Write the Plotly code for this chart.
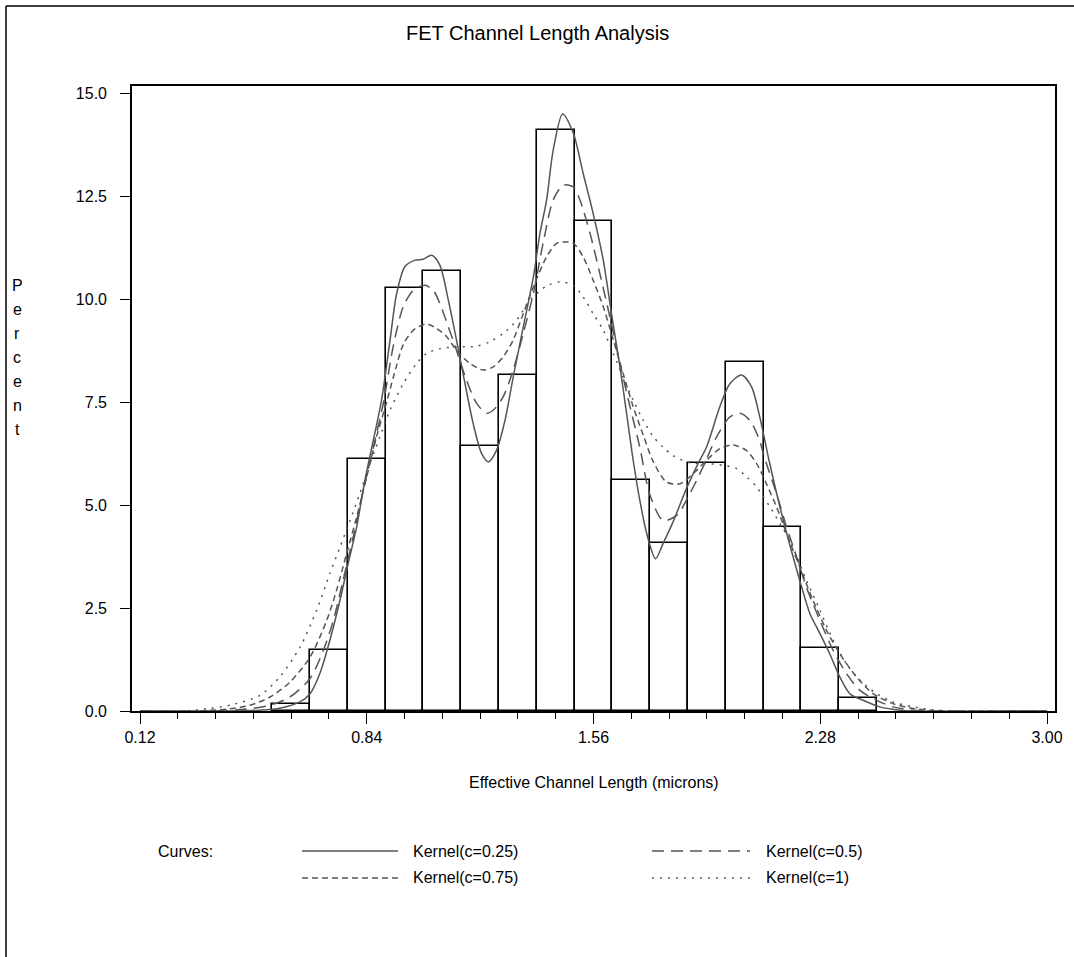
import plotly.graph_objects as go

# histogram: bin midpoints (microns) and percent of observations
bin_mid = [0.60, 0.72, 0.84, 0.96, 1.08, 1.20, 1.32, 1.44,
           1.56, 1.68, 1.80, 1.92, 2.04, 2.16, 2.28, 2.40]
pct = [0.16, 1.47, 6.11, 10.28, 10.68, 6.44, 8.16, 14.11,
       11.90, 5.62, 4.07, 6.03, 8.48, 4.47, 1.54, 0.32]
bin_width = 0.12

# kernel density curves (x in microns, y in percent)
k025_x = [0.12, 0.40, 0.50, 0.56, 0.628, 0.66, 0.691, 0.723, 0.755, 0.781, 0.808, 0.834,
          0.861, 0.887, 0.914, 0.935, 0.961, 0.993, 1.019, 1.046, 1.072, 1.099, 1.125,
          1.152, 1.178, 1.205, 1.226, 1.252, 1.279, 1.305, 1.337, 1.369, 1.39, 1.411,
          1.432, 1.462, 1.496, 1.527, 1.559, 1.591, 1.617, 1.644, 1.665, 1.686, 1.707,
          1.729, 1.757, 1.781, 1.813, 1.855, 1.892, 1.919, 1.961, 1.993, 2.03, 2.062,
          2.088, 2.115, 2.141, 2.168, 2.194, 2.221, 2.247, 2.279, 2.31, 2.342, 2.374,
          2.416, 2.469, 2.533, 2.60, 3.00]
k025_y = [0, 0, 0.02, 0.06, 0.22, 0.42, 0.91, 1.72, 2.69, 3.58, 4.47, 5.60,
          6.58, 7.55, 9.01, 10.14, 10.79, 10.95, 10.97, 11.07, 10.83, 9.98, 9.01,
          7.95, 6.98, 6.25, 6.05, 6.33, 7.06, 8.11, 9.33, 10.54, 11.60, 12.41,
          13.62, 14.50, 14.03, 13.06, 12.08, 10.95, 9.66, 8.36, 7.23, 6.09, 5.12,
          4.31, 3.70, 4.07, 4.60, 5.40, 6.01, 6.41, 7.39, 7.95, 8.16, 7.87,
          7.14, 6.17, 5.30, 4.47, 3.74, 3.01, 2.37, 1.88, 1.39, 0.83, 0.42,
          0.26, 0.10, 0.02, 0, 0]

k05_x = [0.12, 0.35, 0.45, 0.533, 0.596, 0.66, 0.702, 0.734, 0.765, 0.797, 0.829, 0.861,
         0.892, 0.924, 0.956, 0.988, 1.025, 1.051, 1.072, 1.099, 1.125, 1.157, 1.189,
         1.221, 1.242, 1.273, 1.305, 1.337, 1.369, 1.40, 1.432, 1.464, 1.496, 1.517,
         1.549, 1.58, 1.612, 1.644, 1.676, 1.707, 1.739, 1.781, 1.824, 1.866, 1.908,
         1.951, 1.993, 2.025, 2.056, 2.083, 2.109, 2.141, 2.173, 2.205, 2.236, 2.279,
         2.321, 2.363, 2.406, 2.459, 2.511, 2.575, 2.65, 3.00]
k05_y = [0, 0, 0.04, 0.14, 0.34, 0.79, 1.47, 2.20, 3.18, 4.23, 5.36, 6.41,
         7.45, 8.85, 9.82, 10.22, 10.34, 10.22, 9.90, 9.33, 8.76, 8.03, 7.47,
         7.23, 7.31, 7.63, 8.28, 9.17, 10.14, 11.36, 12.41, 12.77, 12.73, 12.41,
         11.60, 10.63, 9.57, 8.44, 7.39, 6.41, 5.25, 4.63, 4.75, 5.28, 5.93,
         6.66, 7.14, 7.23, 7.06, 6.66, 6.01, 5.28, 4.47, 3.74, 3.01, 2.20,
         1.47, 0.91, 0.50, 0.26, 0.10, 0.02, 0, 0]

k075_x = [0.12, 0.30, 0.40, 0.469, 0.533, 0.596, 0.66, 0.713, 0.744, 0.776, 0.808, 0.84,
          0.871, 0.903, 0.935, 0.956, 0.988, 1.03, 1.062, 1.094, 1.125, 1.168, 1.21,
          1.242, 1.273, 1.305, 1.337, 1.369, 1.411, 1.443, 1.464, 1.496, 1.527, 1.559,
          1.591, 1.623, 1.654, 1.686, 1.718, 1.75, 1.792, 1.835, 1.877, 1.919, 1.961,
          2.003, 2.045, 2.078, 2.109, 2.141, 2.173, 2.215, 2.257, 2.30, 2.342, 2.395,
          2.448, 2.511, 2.575, 2.638, 2.70, 3.00]
k075_y = [0, 0, 0.05, 0.14, 0.34, 0.70, 1.31, 2.20, 2.93, 3.82, 4.71, 5.69,
          6.66, 7.50, 8.40, 8.90, 9.25, 9.40, 9.29, 9.09, 8.76, 8.44, 8.28,
          8.36, 8.60, 9.01, 9.65, 10.30, 11.03, 11.36, 11.39, 11.36, 11.03, 10.46,
          9.82, 9.01, 8.20, 7.39, 6.70, 6.05, 5.56, 5.52, 5.77, 6.09, 6.37,
          6.46, 6.33, 6.01, 5.52, 4.96, 4.31, 3.50, 2.69, 1.96, 1.39, 0.83,
          0.42, 0.18, 0.06, 0.01, 0, 0]

k1_x = [0.12, 0.257, 0.342, 0.416, 0.501, 0.564, 0.628, 0.681, 0.723, 0.755, 0.787, 0.818,
        0.85, 0.882, 0.914, 0.956, 0.998, 1.03, 1.072, 1.125, 1.189, 1.231, 1.273,
        1.316, 1.358, 1.411, 1.453, 1.496, 1.527, 1.559, 1.591, 1.623, 1.654, 1.686,
        1.718, 1.75, 1.781, 1.813, 1.866, 1.919, 1.972, 2.014, 2.046, 2.078, 2.12,
        2.152, 2.183, 2.236, 2.279, 2.321, 2.363, 2.406, 2.459, 2.511, 2.575, 2.638,
        2.72, 3.00]
k1_y = [0, 0.0, 0.06, 0.16, 0.38, 0.83, 1.55, 2.45, 3.34, 3.98, 4.63, 5.28,
        6.01, 6.66, 7.31, 7.95, 8.44, 8.68, 8.80, 8.84, 8.86, 8.97, 9.17,
        9.49, 9.98, 10.32, 10.42, 10.34, 10.06, 9.65, 9.25, 8.68, 8.11, 7.55,
        7.06, 6.66, 6.41, 6.20, 6.03, 6.01, 5.97, 5.89, 5.69, 5.44, 4.96,
        4.55, 4.15, 3.18, 2.45, 1.72, 1.15, 0.75, 0.42, 0.22, 0.10, 0.03,
        0, 0]

curve_labels = ["Kernel(c=0.25)", "Kernel(c=0.5)", "Kernel(c=0.75)", "Kernel(c=1)"]
curve_dash = ["solid", "12px,7px", "6px,4px", "2px,6px"]

FONT = "Arial, Liberation Sans, Helvetica, sans-serif"
CURVE_COLOR = "#555555"
W, H = 1074, 957
L, R, T, B = 132, 1055, 86, 711   # plot-area box in pixels


def px(p):
    return (p - L) / (R - L)


def py(q):
    return (B - q) / (B - T)


fig = go.Figure()
fig.add_trace(go.Bar(
    x=bin_mid, y=pct, width=bin_width,
    marker=dict(color="white", line=dict(color="black", width=1.6)),
    hoverinfo="x+y",
))

for cx, cy, dash in zip([k025_x, k05_x, k075_x, k1_x],
                        [k025_y, k05_y, k075_y, k1_y], curve_dash):
    fig.add_trace(go.Scatter(
        x=cx, y=cy, mode="lines",
        line=dict(color=CURVE_COLOR, width=1.5, dash=dash, shape="spline", smoothing=0.8),
    ))

# legend drawn by hand, SAS style
shapes = []
annotations = [
    dict(text="Curves:", x=px(156), y=py(851), xanchor="left", yanchor="middle"),
]
legend_pos = [(302, 398, 411, 851), (652, 750, 764, 851),
              (302, 398, 411, 878), (652, 750, 764, 878)]
for (x0, x1, tx, ty), lab, dash in zip(legend_pos, curve_labels, curve_dash):
    shapes.append(dict(type="line", xref="paper", yref="paper",
                       x0=px(x0), x1=px(x1), y0=py(ty), y1=py(ty),
                       line=dict(color=CURVE_COLOR, width=1.5, dash=dash)))
    annotations.append(dict(text=lab, x=px(tx), y=py(ty), xanchor="left", yanchor="middle"))

# outer page frame (left and top edges visible)
shapes.append(dict(type="line", xref="paper", yref="paper", x0=px(6), x1=px(6),
                   y0=py(6), y1=py(980), line=dict(color="black", width=1.5)))
shapes.append(dict(type="line", xref="paper", yref="paper", x0=px(6), x1=px(1100),
                   y0=py(6), y1=py(6), line=dict(color="black", width=1.5)))

annotations += [
    dict(text="FET Channel Length Analysis", x=px(537), y=py(33),
         xanchor="center", yanchor="middle", font=dict(size=20)),
    dict(text="Effective Channel Length (microns)", x=0.5, y=py(782),
         xanchor="center", yanchor="middle"),
]
# vertical, letter-stacked y-axis label
for i, ch in enumerate("Percent"):
    annotations.append(dict(text=ch, x=px(17), y=py(285 + 24 * i),
                            xanchor="center", yanchor="middle"))

for a in annotations:
    a.setdefault("xref", "paper")
    a.setdefault("yref", "paper")
    a.setdefault("showarrow", False)
    a.setdefault("font", dict(size=16))

fig.update_layout(
    width=W, height=H,
    margin=dict(l=L, r=W - R, t=T, b=H - B, pad=0),
    paper_bgcolor="white", plot_bgcolor="white",
    font=dict(family=FONT, size=16, color="black"),
    showlegend=False, bargap=0,
    shapes=shapes, annotations=annotations,
)
fig.update_xaxes(
    range=[0.0946, 3.0254], tick0=0.12, dtick=0.72, tickformat=".2f",
    showgrid=False, zeroline=False,
    showline=True, linecolor="black", linewidth=1.6, mirror=True,
    ticks="outside", ticklen=11, tickwidth=1.4, tickcolor="black",
    minor=dict(ticks="outside", tick0=0.12, dtick=0.12, ticklen=6,
               tickwidth=1.4, tickcolor="black", showgrid=False),
)
fig.update_yaxes(
    range=[0, 15.18], tick0=0, dtick=2.5, tickformat=".1f",
    showgrid=False, zeroline=False,
    showline=True, linecolor="black", linewidth=1.6, mirror=True,
    ticks="outside", ticklen=10, tickwidth=1.4, tickcolor="black",
    ticklabelstandoff=10,
)

fig.write_html("out.html", config={"displayModeBar": False},
               post_script="document.body.style.margin='0';")
